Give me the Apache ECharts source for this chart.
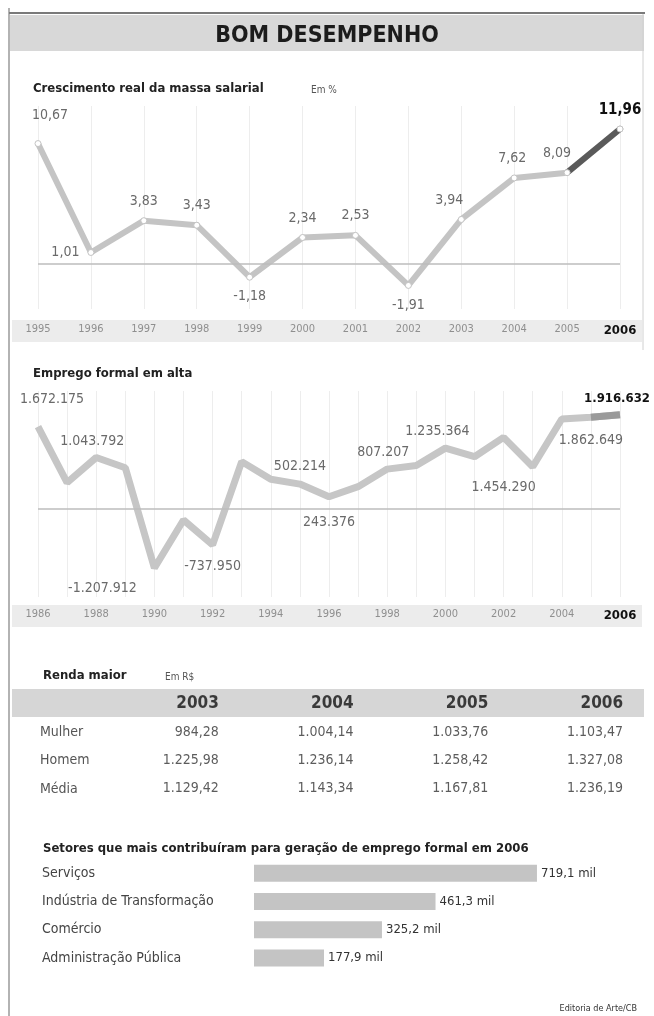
<!DOCTYPE html>
<html>
<head>
<meta charset="utf-8">
<script src="https://cdn.jsdelivr.net/npm/echarts@6/dist/echarts.min.js"></script>
<style>
html,body{margin:0;padding:0;background:#fff;}
#c{width:654px;height:1016px;}
</style>
</head>
<body>
<div id="c"></div>
<script>
// ---------- data ----------
const wageYears = ['1995','1996','1997','1998','1999','2000','2001','2002','2003','2004','2005','2006'];
const wageGrowth = [10.67, 1.01, 3.83, 3.43, -1.18, 2.34, 2.53, -1.91, 3.94, 7.62, 8.09, 11.96];

const jobYears = ['1986','1987','1988','1989','1990','1991','1992','1993','1994','1995','1996',
                  '1997','1998','1999','2000','2001','2002','2003','2004','2005','2006'];
const jobNet = [1672175, 530000, 1043792, 835000, -1207912, -230000, -737950, 960000, 600000, 502214, 243376,
                450000, 807207, 880000, 1235364, 1060000, 1454290, 855000, 1830000, 1862649, 1916632];
const jobLabelYears = ['1986','1988','1990','1992','1995','1996','1998','2000','2002','2005','2006'];

const incomeYears = ['2003','2004','2005','2006'];
const incomeRows = ['Mulher','Homem','Média'];
const incomeMulher = [984.28, 1004.14, 1033.76, 1103.47];
const incomeHomem = [1225.98, 1236.14, 1258.42, 1327.08];
const incomeMedia = [1129.42, 1143.34, 1167.81, 1236.19];

const sectors = ['Serviços','Indústria de Transformação','Comércio','Administração Pública'];
const sectorJobs = [719.1, 461.3, 325.2, 177.9];

// ---------- formatting ----------
function grp(s){ return s.replace(/\B(?=(\d{3})+(?!\d))/g, '.'); }
function fmtInt(n){ return (n<0?'-':'') + grp(Math.abs(Math.round(n)).toString()); }
function fmtDec(v){ const a = Math.abs(v).toFixed(2).split('.'); return (v<0?'-':'') + grp(a[0]) + ',' + a[1]; }
function fmtMil(v){ return v.toFixed(1).replace('.', ',') + ' mil'; }

const COND = "'DejaVu Sans Condensed','Liberation Sans Narrow',sans-serif";
const labelGray = '#6a6a6a';

// label placement (style only)
const wageLabelCfg = {
  '1995': {position:'top', distance:18, offset:[12,0]},
  '1996': {position:'left', distance:8},
  '1997': {position:'top'},
  '1998': {position:'top'},
  '1999': {position:'bottom'},
  '2000': {position:'top'},
  '2001': {position:'top'},
  '2002': {position:'bottom'},
  '2003': {position:'top', offset:[-12,0]},
  '2004': {position:'top', offset:[-2,0]},
  '2005': {position:'top', offset:[-10,0]},
  '2006': {position:'top', distance:8, fontWeight:'bold', color:'#111', fontSize:15}
};
const jobLabelCfg = {
  '1986': {position:'top', distance:20, offset:[14,0]},
  '1988': {position:'top', offset:[-4,0]},
  '1990': {position:'bottom', offset:[-52,4]},
  '1992': {position:'bottom', distance:14},
  '1995': {position:'top', distance:10},
  '1996': {position:'bottom', distance:18},
  '1998': {position:'top', distance:9, offset:[-4,0]},
  '2000': {position:'top', offset:[-8,0]},
  '2002': {position:'bottom', distance:42},
  '2005': {position:'bottom', distance:16},
  '2006': {position:'top', distance:9, offset:[-3,0], fontWeight:'bold', color:'#111', fontSize:13}
};

const chart = echarts.init(document.getElementById('c'), null, {renderer:'canvas'});

const wageData = wageGrowth.map((v,i)=>({
  value: v,
  label: Object.assign({show:true}, wageLabelCfg[wageYears[i]] || {})
}));
const wageLast = wageGrowth.map((v,i)=> i >= wageGrowth.length-2 ? v : '-');

const jobData = jobNet.map((v,i)=>{
  const y = jobYears[i];
  const lab = jobLabelYears.indexOf(y) >= 0;
  return {value:v, label: lab ? Object.assign({show:true}, jobLabelCfg[y] || {}) : {show:false}};
});
const jobLast = jobNet.map((v,i)=> i >= jobNet.length-2 ? v : '-');

const tableData = [];
incomeYears.forEach((y,i)=>{ tableData.push({value:[i,0], name:y, label:{fontWeight:'bold', fontSize:17, color:'#111'}}); });
[incomeMulher, incomeHomem, incomeMedia].forEach((arr,r)=>{
  arr.forEach((v,i)=>{ tableData.push({value:[i,r+1], name:fmtDec(v)}); });
});

const axisLabelStyle = (arr)=>({
  color:'#8f8f8f', fontSize:11, fontFamily:COND,
  formatter:(v,i)=> i === arr.length-1 ? '{b|'+v+'}' : v,
  rich:{b:{fontWeight:'bold', color:'#111', fontSize:13, fontFamily:COND}}
});

const option = {
  animation:false,
  backgroundColor:'#ffffff',
  graphic:[
    {type:'line', shape:{x1:9, y1:8, x2:9, y2:1016}, style:{stroke:'#9a9a9a', lineWidth:1.5}, silent:true},
    {type:'line', shape:{x1:643, y1:12, x2:643, y2:350}, style:{stroke:'#d0d0d0', lineWidth:1}, silent:true},
    {type:'line', shape:{x1:9, y1:13, x2:645, y2:13}, style:{stroke:'#7a7a7a', lineWidth:2}, silent:true},
    {type:'rect', shape:{x:10, y:15, width:634, height:36}, style:{fill:'#d8d8d8'}, silent:true, z:-10},
    {type:'rect', shape:{x:12, y:320, width:630, height:22}, style:{fill:'#ececec'}, silent:true, z:-10},
    {type:'rect', shape:{x:12, y:605, width:630, height:22}, style:{fill:'#ececec'}, silent:true, z:-10},
    {type:'rect', shape:{x:12, y:689, width:632, height:28}, style:{fill:'#d6d6d6'}, silent:true, z:-10}
  ],
  title:[
    {text:'BOM DESEMPENHO', left:'center', top:20, textStyle:{fontFamily:COND, fontWeight:'bold', fontSize:23, color:'#1c1c1c'}},
    {text:'Crescimento real da massa salarial', left:28, top:77, textStyle:{fontFamily:COND, fontWeight:'bold', fontSize:13, color:'#222'}},
    {text:'Em %', left:306, top:80, textStyle:{fontFamily:COND, fontWeight:'normal', fontSize:10, color:'#555'}},
    {text:'Emprego formal em alta', left:28, top:362, textStyle:{fontFamily:COND, fontWeight:'bold', fontSize:13, color:'#222'}},
    {text:'Renda maior', left:38, top:664, textStyle:{fontFamily:COND, fontWeight:'bold', fontSize:13, color:'#222'}},
    {text:'Em R$', left:160, top:667, textStyle:{fontFamily:COND, fontWeight:'normal', fontSize:10, color:'#555'}},
    {text:'Setores que mais contribuíram para geração de emprego formal em 2006', left:38, top:837, textStyle:{fontFamily:COND, fontWeight:'bold', fontSize:13, color:'#222'}},
    {text:'Editoria de Arte/CB', right:12, top:999, textStyle:{fontFamily:COND, fontWeight:'normal', fontSize:9, color:'#333'}}
  ],
  grid:[
    {left:38, right:34, top:106, height:203},
    {left:38, right:34, top:391, height:206},
    {left:100, right:15, top:690, height:113},
    {left:254, right:6.5, top:859, height:113}
  ],
  xAxis:[
    {gridIndex:0, type:'category', data:wageYears, boundaryGap:false,
     axisLine:{show:false}, axisTick:{show:false},
     axisLabel:Object.assign({margin:15, interval:0}, axisLabelStyle(wageYears)),
     splitLine:{show:true, interval:0, lineStyle:{color:'#ededed', width:1}}},
    {gridIndex:1, type:'category', data:jobYears, boundaryGap:false,
     axisLine:{show:false}, axisTick:{show:false},
     axisLabel:Object.assign({margin:12, interval:1}, axisLabelStyle(jobYears)),
     splitLine:{show:true, interval:0, lineStyle:{color:'#ededed', width:1}}},
    {gridIndex:2, type:'category', data:incomeYears, show:false},
    {gridIndex:3, type:'value', min:0, max:1000, show:false}
  ],
  yAxis:[
    {gridIndex:0, type:'value', min:-4, max:14, show:false},
    {gridIndex:1, type:'value', min:-1800000, max:2400000, show:false},
    {gridIndex:2, type:'category', data:[''].concat(incomeRows), inverse:true,
     axisLine:{show:false}, axisTick:{show:false}, splitLine:{show:false},
     axisLabel:{align:'left', margin:60, color:'#555', fontSize:14, fontFamily:COND}},
    {gridIndex:3, type:'category', data:sectors, inverse:true,
     axisLine:{show:false}, axisTick:{show:false}, splitLine:{show:false},
     axisLabel:{align:'left', margin:212, color:'#444', fontSize:14, fontFamily:COND}}
  ],
  series:[
    {type:'line', xAxisIndex:0, yAxisIndex:0, data:wageData, z:3,
     lineStyle:{color:'#c4c4c4', width:6}, symbol:'circle', symbolSize:6,
     itemStyle:{color:'#ffffff', borderColor:'#c4c4c4', borderWidth:1},
     label:{show:true, formatter:p=>fmtDec(p.value), color:labelGray, fontSize:14, fontFamily:COND, distance:9},
     markLine:{silent:true, symbol:'none', label:{show:false},
       lineStyle:{color:'#bdbdbd', width:1.5, type:'solid'}, data:[{yAxis:0}]}},
    {type:'line', xAxisIndex:0, yAxisIndex:0, data:wageLast, z:4,
     lineStyle:{color:'#5a5a5a', width:6}, symbol:'circle', symbolSize:6,
     itemStyle:{color:'#ffffff', borderColor:'#c4c4c4', borderWidth:1}, label:{show:false}},
    {type:'line', xAxisIndex:1, yAxisIndex:1, data:jobData, z:3,
     lineStyle:{color:'#c6c6c6', width:7}, symbol:'circle', symbolSize:1, showAllSymbol:true,
     itemStyle:{color:'rgba(0,0,0,0)', borderWidth:0},
     label:{formatter:p=>fmtInt(p.value), color:labelGray, fontSize:14, fontFamily:COND, distance:9},
     markLine:{silent:true, symbol:'none', label:{show:false},
       lineStyle:{color:'#bdbdbd', width:1.5, type:'solid'}, data:[{yAxis:0}]}},
    {type:'line', xAxisIndex:1, yAxisIndex:1, data:jobLast, z:4,
     lineStyle:{color:'#9a9a9a', width:7}, symbol:'none', label:{show:false}},
    {type:'scatter', xAxisIndex:2, yAxisIndex:2, data:tableData, symbolSize:1,
     itemStyle:{color:'rgba(0,0,0,0)'},
     label:{show:true, position:[52,0], align:'right', verticalAlign:'middle',
       formatter:p=>p.name, color:'#333', fontSize:14, fontFamily:COND}},
    {type:'bar', xAxisIndex:3, yAxisIndex:3, data:sectorJobs, barWidth:17,
     itemStyle:{color:'#c4c4c4'},
     label:{show:true, position:'right', distance:4, formatter:p=>fmtMil(p.value),
       color:'#333', fontSize:13, fontFamily:COND}}
  ]
};
chart.setOption(option);
</script>
</body>
</html>
